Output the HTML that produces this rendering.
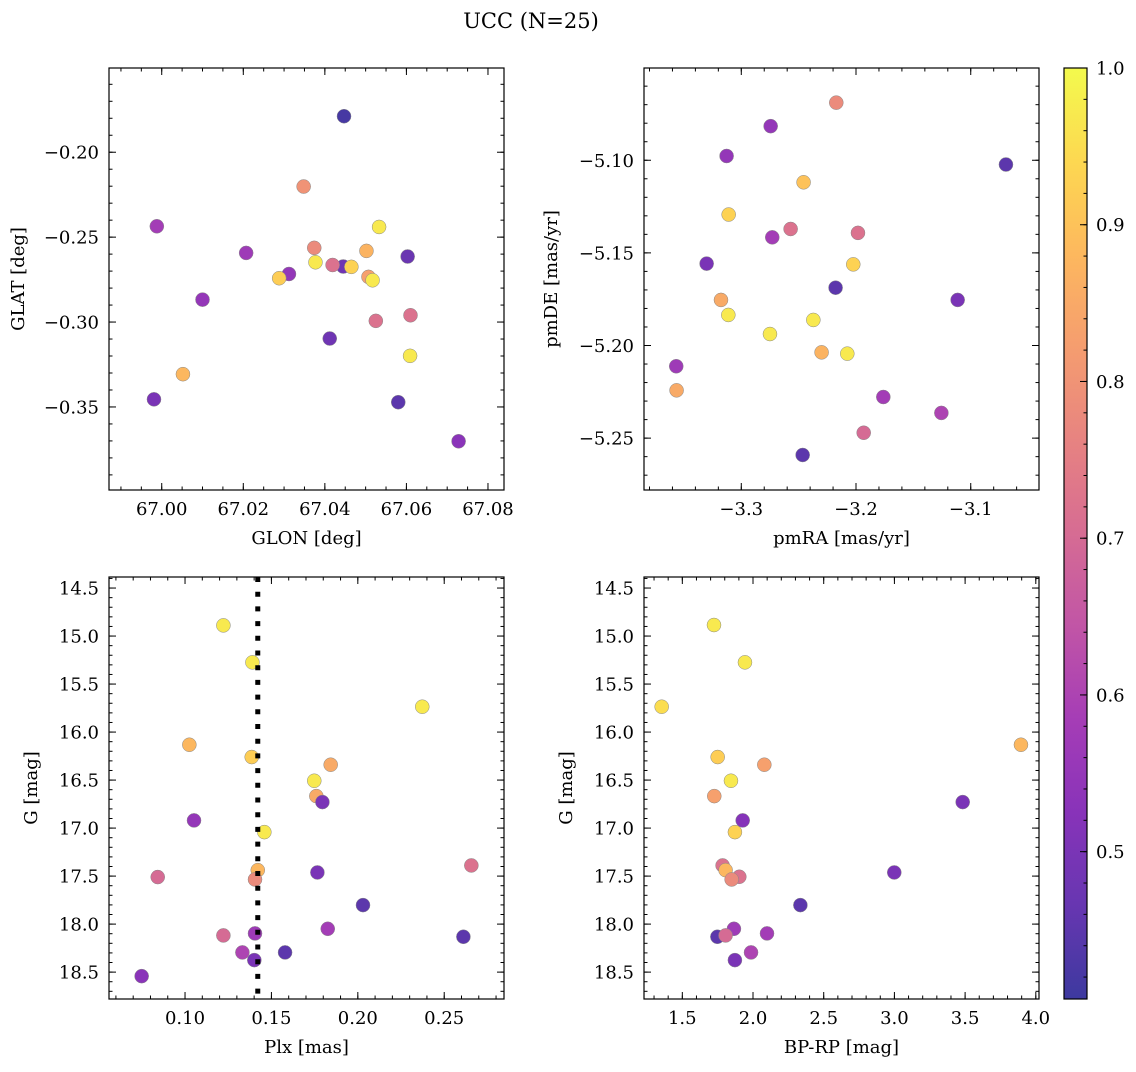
<!DOCTYPE html>
<html><head><meta charset="utf-8">
<style>
body{margin:0;background:#fff;}
svg text{font-family:"DejaVu Serif","Liberation Serif",serif;fill:#000;}
</style></head>
<body>
<svg id="fig" width="1136" height="1067" xmlns="http://www.w3.org/2000/svg">
<text x="531" y="28" font-size="21" text-anchor="middle">UCC (N=25)</text>
</svg>
<script>
// Panel 1: GLON vs GLAT
const glon = [67.0447,67.0348,66.9988,67.0533,67.0207,67.0374,67.0502,67.0603,67.0377,67.0445,67.0465,67.0419,67.0312,67.0288,67.0507,67.0517,67.0100,67.0610,67.0525,67.0412,67.0609,67.0052,66.9981,67.0580,67.0728];
const glat = [-0.1788,-0.2202,-0.2436,-0.2440,-0.2593,-0.2563,-0.2581,-0.2614,-0.2648,-0.2673,-0.2675,-0.2664,-0.2717,-0.2742,-0.2734,-0.2754,-0.2868,-0.2960,-0.2993,-0.3097,-0.3199,-0.3307,-0.3455,-0.3472,-0.3702];
const prob1 = [0.42,0.80,0.58,0.97,0.57,0.78,0.87,0.47,0.97,0.48,0.93,0.72,0.55,0.92,0.83,0.97,0.55,0.72,0.72,0.48,0.97,0.88,0.50,0.45,0.53];
// Panel 2: pmRA vs pmDE
const pmra = [-3.2172,-3.2744,-3.3128,-3.0693,-3.2457,-3.3110,-3.2570,-3.2730,-3.1983,-3.3302,-3.2024,-3.2178,-3.3177,-3.1114,-3.3113,-3.2372,-3.2750,-3.2300,-3.2076,-3.3567,-3.3564,-3.1762,-3.1256,-3.1933,-3.2465];
const pmde = [-5.0689,-5.0816,-5.0977,-5.1023,-5.1119,-5.1293,-5.1371,-5.1416,-5.1392,-5.1558,-5.1562,-5.1688,-5.1754,-5.1754,-5.1835,-5.1862,-5.1938,-5.2037,-5.2044,-5.2112,-5.2242,-5.2278,-5.2364,-5.2471,-5.2591];
const prob2 = [0.78,0.55,0.55,0.45,0.90,0.93,0.72,0.58,0.72,0.50,0.93,0.45,0.85,0.50,0.97,0.97,0.97,0.87,0.97,0.57,0.85,0.58,0.60,0.70,0.45];
// Panel 3: Plx vs G
const plx = [0.1222,0.1390,0.2373,0.1025,0.1386,0.1843,0.1748,0.1760,0.1795,0.1052,0.1459,0.2657,0.1421,0.0842,0.1405,0.1766,0.2030,0.1826,0.1222,0.1405,0.2611,0.1332,0.1579,0.1401,0.0749];
const gmag3 = [14.889,15.274,15.736,16.132,16.260,16.340,16.507,16.667,16.729,16.920,17.042,17.389,17.438,17.510,17.535,17.462,17.802,18.049,18.118,18.097,18.132,18.295,18.295,18.375,18.542];
const prob3 = [0.97,0.97,0.97,0.88,0.92,0.85,0.97,0.85,0.50,0.55,0.97,0.72,0.88,0.70,0.78,0.50,0.45,0.58,0.70,0.57,0.45,0.60,0.45,0.50,0.53];
const plxLine = [0.1421];
// Panel 4: BP-RP vs G
const bprp = [1.724,1.943,1.354,3.895,1.750,2.080,1.844,1.726,3.483,1.927,1.872,1.785,1.806,1.903,1.849,2.999,2.335,1.865,1.748,1.806,2.099,1.986,1.872];
const gmag4 = [14.885,15.274,15.736,16.132,16.260,16.340,16.507,16.667,16.729,16.920,17.042,17.389,17.438,17.507,17.535,17.462,17.802,18.049,18.132,18.118,18.097,18.295,18.375];
const prob4 = [0.97,0.97,0.95,0.88,0.92,0.83,0.97,0.83,0.50,0.52,0.93,0.72,0.88,0.72,0.78,0.50,0.45,0.57,0.45,0.70,0.58,0.60,0.50];
// Colorbar
const cbTicks = [0.5,0.6,0.7,0.8,0.9,1.0];
const cbMin = 0.406, cbMax = 1.0;

const NS = "http://www.w3.org/2000/svg";
const svg = document.getElementById('fig');
const stops = [[13,8,135],[65,4,157],[106,0,168],[143,13,164],[177,42,144],[204,71,120],[225,100,98],[242,132,75],[252,166,54],[252,206,37],[240,249,33]];
function plasma(t){t=Math.max(0,Math.min(1,t));const f=t*10;const i=Math.min(9,Math.floor(f));const u=f-i;const a=stops[i],b=stops[i+1];
 const c=[0,1,2].map(k=>Math.round((a[k]+(b[k]-a[k])*u)*0.8+255*0.2));return `rgb(${c[0]},${c[1]},${c[2]})`;}
function mk(tag,attrs,parent){const e=document.createElementNS(NS,tag);for(const k in attrs)e.setAttribute(k,attrs[k]);(parent||svg).appendChild(e);return e;}
function fmt(v,d,neg){let s=(neg?-v:v).toFixed(d);return s.replace('-','\u2212');}

function panel(o){
 const g=mk('g',{});
 
 
 const X=v=>o.x0+(v-o.xmin)/(o.xmax-o.xmin)*(o.x1-o.x0);
 const Y=v=>o.y1-(v-o.ymin)/(o.ymax-o.ymin)*(o.y1-o.y0);
 for(let i=0;i<o.xs.length;i++){
  const c=mk('circle',{cx:X(o.xs[i]),cy:Y(o.ys[i]),r:7,fill:plasma((o.ps[i]-cbMin)/(cbMax-cbMin)),stroke:'#888','stroke-width':0.5},g);
  
  
 }
 if(o.vline){for(const v of o.vline){const l=mk('line',{x1:X(v),x2:X(v),y1:o.y0,y2:o.y1,stroke:'#000','stroke-width':5,'stroke-dasharray':'5,9.7'},g);
  
  }}
 const fr=mk('rect',{x:o.x0,y:o.y0,width:o.x1-o.x0,height:o.y1-o.y0,fill:'none',stroke:'#000','stroke-width':1.2},g);
 
 
 const eps=1e-9;
 for(let v=Math.ceil(o.xmin/o.xminor-eps)*o.xminor;v<=o.xmax+eps;v+=o.xminor){const p=X(v);
  mk('line',{x1:p,x2:p,y1:o.y1,y2:o.y1-3.5,stroke:'#000','stroke-width':1},g);mk('line',{x1:p,x2:p,y1:o.y0,y2:o.y0+3.5,stroke:'#000','stroke-width':1},g);}
 for(let v=Math.ceil(o.ymin/o.yminor-eps)*o.yminor;v<=o.ymax+eps;v+=o.yminor){const p=Y(v);
  mk('line',{x1:o.x0,x2:o.x0+3.5,y1:p,y2:p,stroke:'#000','stroke-width':1},g);mk('line',{x1:o.x1,x2:o.x1-3.5,y1:p,y2:p,stroke:'#000','stroke-width':1},g);}
 for(const v of o.xticks){const p=X(v);
  mk('line',{x1:p,x2:p,y1:o.y1,y2:o.y1-7,stroke:'#000','stroke-width':1},g);mk('line',{x1:p,x2:p,y1:o.y0,y2:o.y0+7,stroke:'#000','stroke-width':1},g);
  const t=mk('text',{x:p,y:o.y1+25,'font-size':18,'text-anchor':'middle'},g);t.textContent=fmt(v,o.xd,false);
  
  }
 for(const v of o.yticks){const p=Y(v);
  mk('line',{x1:o.x0,x2:o.x0+7,y1:p,y2:p,stroke:'#000','stroke-width':1},g);mk('line',{x1:o.x1,x2:o.x1-7,y1:p,y2:p,stroke:'#000','stroke-width':1},g);
  const t=mk('text',{x:o.x0-10,y:p+6.5,'font-size':18,'text-anchor':'end'},g);t.textContent=fmt(v,o.yd,o.neg);
  
  }
 const xl=mk('text',{x:(o.x0+o.x1)/2,y:o.y1+54,'font-size':18,'text-anchor':'middle'},g);xl.textContent=o.xlabel;
 
 
 const yx=o.x0-o.ylo,yy=(o.y0+o.y1)/2;
 const yl=mk('text',{x:yx,y:yy,'font-size':18,'text-anchor':'middle',transform:`rotate(-90 ${yx} ${yy})`},g);yl.textContent=o.ylabel;
 
 
}
function rng(a,b,s){const r=[];for(let v=a;v<=b+1e-9;v+=s)r.push(+v.toFixed(6));return r;}

panel({name:'glon-glat-panel',x0:109,x1:504,y0:68,y1:490,xmin:66.98707,xmax:67.08393,ymin:-0.3989,ymax:-0.1504,
 xs:glon,ys:glat,ps:prob1,xticks:rng(67.0,67.08,0.02),yticks:rng(-0.35,-0.2,0.05),xminor:0.005,yminor:0.01,xd:2,yd:2,
 xlabel:'GLON [deg]',ylabel:'GLAT [deg]',ylo:85});
panel({name:'pm-panel',x0:644,x1:1039,y0:68,y1:490,xmin:-3.3848,xmax:-3.0405,ymin:-5.278,ymax:-5.0502,
 xs:pmra,ys:pmde,ps:prob2,xticks:[-3.3,-3.2,-3.1],yticks:rng(-5.25,-5.1,0.05),xminor:0.02,yminor:0.01,xd:1,yd:2,
 xlabel:'pmRA [mas/yr]',ylabel:'pmDE [mas/yr]',ylo:87});
panel({name:'plx-g-panel',x0:109,x1:504,y0:577,y1:999,xmin:0.056,xmax:0.2846,ymin:-18.78,ymax:-14.385,
 xs:plx,ys:gmag3.map(v=>-v),ps:prob3,xticks:rng(0.1,0.25,0.05),yticks:rng(-18.5,-14.5,0.5),xminor:0.01,yminor:0.1,xd:2,yd:1,
 xlabel:'Plx [mas]',ylabel:'G [mag]',ylo:72,vline:plxLine,neg:true});
panel({name:'cmd-panel',x0:644,x1:1039,y0:577,y1:999,xmin:1.229,xmax:4.0226,ymin:-18.78,ymax:-14.385,
 xs:bprp,ys:gmag4.map(v=>-v),ps:prob4,xticks:rng(1.5,4.0,0.5),yticks:rng(-18.5,-14.5,0.5),xminor:0.1,yminor:0.1,xd:1,yd:1,
 xlabel:'BP-RP [mag]',ylabel:'G [mag]',ylo:72,neg:true});

// colorbar
const cx0=1064,cx1=1087,cy0=68,cy1=999;
const defs=mk('defs',{});const lg=mk('linearGradient',{id:'cbg',x1:0,y1:1,x2:0,y2:0},defs);
for(let i=0;i<=20;i++)mk('stop',{offset:i/20,'stop-color':plasma(i/20)},lg);
const cb=mk('rect',{x:cx0,y:cy0,width:cx1-cx0,height:cy1-cy0,fill:'url(#cbg)',stroke:'#000','stroke-width':1.2});


const CY=v=>cy1-(v-cbMin)/(cbMax-cbMin)*(cy1-cy0);
for(let v=0.42;v<=1.0001;v+=0.02){const p=CY(v);mk('line',{x1:cx1,x2:cx1-3.5,y1:p,y2:p,stroke:'#000'});}
for(const v of cbTicks){const p=CY(v);mk('line',{x1:cx1,x2:cx1-7,y1:p,y2:p,stroke:'#000'});
 const t=mk('text',{x:cx1+9,y:p+6.5,'font-size':18});t.textContent=v.toFixed(1);
 
 }
</script>
</body></html>
